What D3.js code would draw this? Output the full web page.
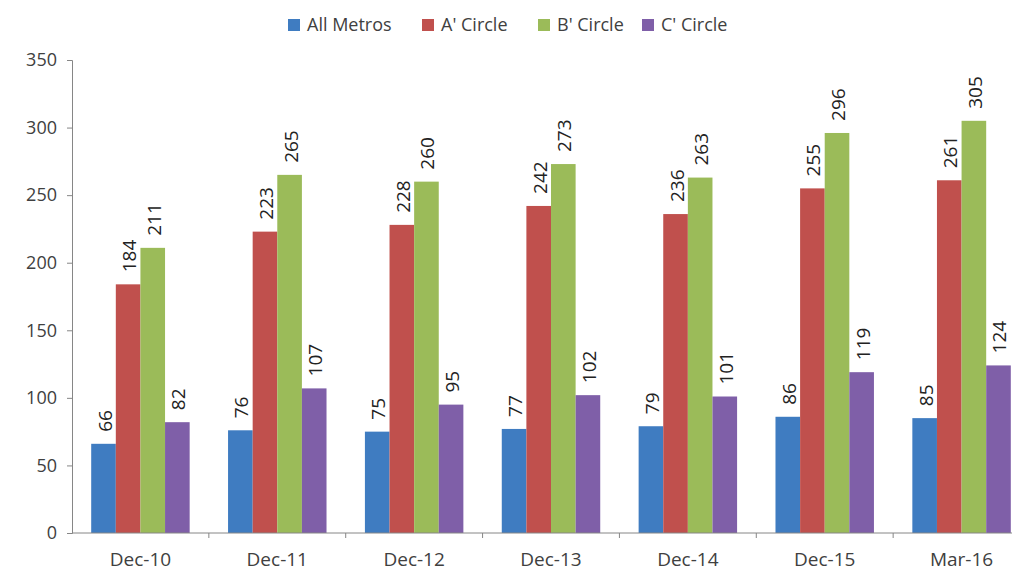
<!DOCTYPE html>
<html>
<head>
<meta charset="utf-8">
<script src="https://cdn.jsdelivr.net/npm/d3@7"></script>
<style>
  body { margin: 0; background: #fff; }
  text { font-family: "Open Sans", "Noto Sans", sans-serif; fill: #404040; }
</style>
</head>
<body>
<svg id="chart" width="1012" height="573"></svg>
<script>
var categories = ["Dec-10", "Dec-11", "Dec-12", "Dec-13", "Dec-14", "Dec-15", "Mar-16"];
var seriesNames = ["All Metros", "A' Circle", "B' Circle", "C' Circle"];
var allMetros = [66, 76, 75, 77, 79, 86, 85];
var aCircle = [184, 223, 228, 242, 236, 255, 261];
var bCircle = [211, 265, 260, 273, 263, 296, 305];
var cCircle = [82, 107, 95, 102, 101, 119, 124];
var yTicks = [0, 50, 100, 150, 200, 250, 300, 350];
var colors = ["#3f7cc1", "#c0504d", "#9bbb59", "#7f5fa8"];

var seriesValues = [allMetros, aCircle, bCircle, cCircle];

var svg = d3.select("#chart");
var plotLeft = 72, plotRight = 1030, plotTop = 60, plotBottom = 533;

var x = d3.scaleBand().domain(categories).range([plotLeft, plotRight]).paddingInner(0).paddingOuter(0);
var inner = d3.scaleBand().domain(seriesNames).range([0, x.bandwidth()]).paddingOuter(0.78).paddingInner(0);
var y = d3.scaleLinear().domain([0, 350]).range([plotBottom, plotTop]);

// y axis
var yAxis = svg.append("g")
    .attr("transform", "translate(" + plotLeft + ",0)")
    .call(d3.axisLeft(y).tickValues(yTicks).tickSize(5).tickPadding(10));
yAxis.selectAll("text").style("font-size", "18px");
yAxis.selectAll("line, path").attr("stroke", "#868686");

// bars
seriesNames.forEach(function(name, si) {
  var g = svg.append("g");
  g.selectAll("rect")
    .data(seriesValues[si])
    .join("rect")
      .attr("x", (d, i) => x(categories[i]) + inner(name))
      .attr("y", d => y(d))
      .attr("width", inner.bandwidth())
      .attr("height", d => y(0) - y(d))
      .attr("fill", colors[si]);
  g.selectAll("text")
    .data(seriesValues[si])
    .join("text")
      .attr("transform", (d, i) => "translate(" + (x(categories[i]) + inner(name) + inner.bandwidth() / 2 + 8) + "," + (y(d) - 12) + ") rotate(-90)")
      .attr("text-anchor", "start")
      .style("font-size", "19px")
      .style("fill", "#222")
      .text(d => d);
});

// x axis with ticks between categories
var xg = svg.append("g");
xg.append("line")
  .attr("x1", plotLeft).attr("x2", plotRight)
  .attr("y1", plotBottom).attr("y2", plotBottom)
  .attr("stroke", "#868686");
xg.selectAll("line.tk")
  .data(categories.slice(1))
  .join("line")
    .attr("class", "tk")
    .attr("x1", d => x(d)).attr("x2", d => x(d))
    .attr("y1", plotBottom).attr("y2", plotBottom + 5)
    .attr("stroke", "#868686");
xg.selectAll("text")
  .data(categories)
  .join("text")
    .attr("x", d => x(d) + x.bandwidth() / 2)
    .attr("y", plotBottom + 33)
    .attr("text-anchor", "middle")
    .style("font-size", "19px")
    .text(d => d);

// legend
var legendX = [288, 422, 538, 642];
var legend = svg.append("g");
seriesNames.forEach(function(name, i) {
  legend.append("rect")
    .attr("x", legendX[i]).attr("y", 19)
    .attr("width", 12).attr("height", 12)
    .attr("fill", colors[i]);
  legend.append("text")
    .attr("x", legendX[i] + 19).attr("y", 31)
    .style("font-size", "18px")
    .text(name);
});
</script>
</body>
</html>
